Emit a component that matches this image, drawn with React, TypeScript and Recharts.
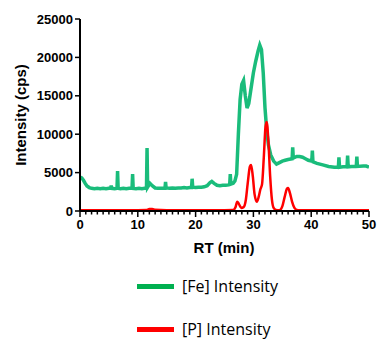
import { LineChart, Line, XAxis, YAxis } from "recharts";

// [Fe] trace (time in min, intensity in cps)
const feTime = [
  0, 0.3, 0.6, 0.9, 1.2, 1.6, 2.0, 2.5, 3.0, 3.5, 4.0, 4.5, 5.0, 5.3, 5.4, 5.5,
  6.0, 6.4, 6.5, 6.6, 7.0, 7.5, 8.0, 8.5, 9.0, 9.1, 9.2, 9.7, 10.2, 10.7, 11.2,
  11.5, 11.6, 11.7, 12.1, 12.5, 13.0, 13.5, 14.0, 14.7, 14.8, 14.9, 15.5, 16.0,
  16.5, 17.0, 17.5, 18.0, 18.5, 19.0, 19.3, 19.4, 19.5, 20.0, 20.5, 21.0, 21.5,
  22.0, 22.5, 22.8, 23.2, 23.7, 24.2, 24.7, 25.2, 25.7, 25.9, 26.0, 26.1, 26.5,
  26.8, 27.1, 27.4, 27.7, 28.0, 28.3, 28.6, 28.9, 29.2, 29.6, 30.0, 30.4, 30.8,
  31.1, 31.4, 31.7, 32.0, 32.3, 32.6, 33.0, 33.5, 34.0, 34.5, 35.0, 35.5, 36.0,
  36.7, 36.8, 36.9, 37.5, 38.0, 38.5, 39.0, 39.5, 40.1, 40.2, 40.3, 41.0, 42.0,
  43.0, 44.0, 44.7, 44.8, 44.9, 45.5, 46.2, 46.3, 46.4, 47.0, 47.8, 47.9, 48.0,
  49.0, 49.5, 50.0,
];
const feValue = [
  4400, 4300, 4000, 3600, 3250, 3050, 2950, 2900, 2950, 2900, 2950, 2900, 2950,
  2950, 3300, 2950, 2900, 2950, 5200, 2950, 2900, 2950, 2900, 2950, 2950, 4800,
  2950, 2900, 2950, 2900, 2950, 2950, 8200, 3100, 3600, 3300, 3000, 2950, 2950,
  2950, 3800, 3000, 2950, 3000, 2950, 3000, 3000, 3050, 3000, 3050, 3050, 4200,
  3100, 3050, 3100, 3100, 3150, 3300, 3700, 3850, 3600, 3350, 3300, 3350, 3350,
  3400, 3500, 4800, 3500, 3600, 3900, 4800, 10000, 14500, 16500, 17000, 15000,
  13400, 14000, 16000, 18000, 19500, 20800, 21600, 21000, 18000, 13500, 10500,
  8600, 7300, 6500, 6100, 6300, 6500, 6600, 6700, 6800, 8300, 6900, 7100, 7100,
  7000, 6800, 6600, 6500, 7850, 6400, 6200, 6000, 5800, 5700, 5700, 7000, 5700,
  5750, 5750, 7200, 5750, 5800, 5800, 7070, 5800, 5850, 5850, 5700,
];

// [P] trace
const pTime = [
  0, 5, 10, 11.5, 12.0, 12.5, 13, 15, 20, 25, 26.5, 26.9, 27.2, 27.5, 27.9,
  28.3, 28.7, 29.0, 29.4, 29.6, 29.9, 30.2, 30.6, 30.9, 31.2, 31.5, 31.8, 32.1,
  32.3, 32.6, 32.9, 33.2, 33.5, 33.9, 34.5, 35.0, 35.4, 35.8, 36.0, 36.3, 36.7,
  37.1, 37.5, 38, 40, 45, 50,
];
const pValue = [
  100, 100, 100, 120, 250, 250, 150, 100, 100, 100, 120, 500, 1200, 900, 400,
  500, 1500, 3500, 5800, 6000, 4500, 2200, 1200, 1800, 2800, 3500, 7000, 11000,
  11600, 9000, 4500, 1500, 400, 150, 100, 600, 1800, 2900, 3000, 2400, 1200,
  400, 150, 100, 100, 100, 100,
];

const yTicks = [0, 5000, 10000, 15000, 20000, 25000];
const xMajor = [0, 10, 20, 30, 40, 50];
const xTicks = Array.from({ length: 51 }, (_, i) => i);

const feData = feTime.map((t, i) => ({ t, v: feValue[i] }));
const pData = pTime.map((t, i) => ({ t, v: pValue[i] }));

const FONT = "'Liberation Sans', Arial, sans-serif";
const FE_COLOR = "#1abc7b";
const P_COLOR = "#ff0000";

function XTick(props: any) {
  const { x, y, payload } = props;
  const major = xMajor.includes(payload.value);
  return (
    <g>
      <line x1={x} y1={y} x2={x} y2={y + (major ? 6 : 3.5)} stroke="#000" strokeWidth={1.5} />
      {major && (
        <text
          x={x}
          y={y + 9}
          dy="0.71em"
          textAnchor="middle"
          fontFamily={FONT}
          fontWeight="bold"
          fontSize={13}
          fill="#000"
        >
          {payload.value}
        </text>
      )}
    </g>
  );
}

export default function App() {
  return (
    <div style={{ position: "absolute", left: 0, top: 0, width: 379, height: 342, background: "#fff" }}>
      <LineChart
        width={379}
        height={342}
        margin={{ top: 19, right: 10, bottom: 0, left: 0 }}
      >
        <XAxis
          type="number"
          dataKey="t"
          domain={[0, 50]}
          ticks={xTicks}
          interval={0}
          allowDataOverflow
          axisLine={{ stroke: "#000", strokeWidth: 2 }}
          tickLine={false}
          tickSize={0}
          tickMargin={0}
          tick={<XTick />}
          height={131}
        />
        <YAxis
          type="number"
          domain={[0, 25000]}
          ticks={yTicks}
          interval={0}
          width={80}
          axisLine={{ stroke: "#000", strokeWidth: 2 }}
          tickLine={{ stroke: "#000", strokeWidth: 1.5 }}
          tickSize={5}
          tickMargin={2}
          tick={{ fill: "#000", fontFamily: FONT, fontWeight: "bold", fontSize: 13 }}
        />
        <Line
          data={feData}
          dataKey="v"
          type="linear"
          stroke={FE_COLOR}
          strokeWidth={3.5}
          dot={false}
          isAnimationActive={false}
        />
        <Line
          data={pData}
          dataKey="v"
          type="monotone"
          stroke={P_COLOR}
          strokeWidth={2.5}
          dot={false}
          isAnimationActive={false}
        />
      </LineChart>

      <div
        style={{
          position: "absolute",
          left: 20,
          top: 115,
          transform: "translate(-50%, -50%) rotate(-90deg)",
          whiteSpace: "nowrap",
          fontFamily: FONT,
          fontWeight: "bold",
          fontSize: 15,
        }}
      >
        Intensity (cps)
      </div>
      <div
        style={{
          position: "absolute",
          left: 224,
          top: 247,
          transform: "translate(-50%, -50%)",
          whiteSpace: "nowrap",
          fontFamily: FONT,
          fontWeight: "bold",
          fontSize: 15,
        }}
      >
        RT (min)
      </div>

      {[
        { label: "[Fe] Intensity", color: "#00b050", y: 286 },
        { label: "[P] Intensity", color: P_COLOR, y: 329 },
      ].map((item) => (
        <div
          key={item.label}
          style={{
            position: "absolute",
            left: 137,
            top: item.y,
            transform: "translateY(-50%)",
            display: "flex",
            alignItems: "center",
            fontFamily: "'Open Sans', sans-serif",
            fontSize: 16,
            whiteSpace: "nowrap",
          }}
        >
          <span style={{ display: "inline-block", width: 37, height: 5, background: item.color, marginRight: 8 }} />
          {item.label}
        </div>
      ))}
    </div>
  );
}
